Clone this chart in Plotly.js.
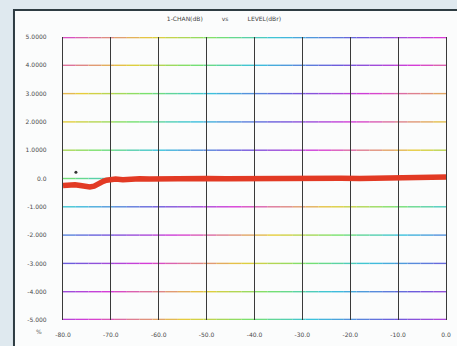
<!DOCTYPE html>
<html><head><meta charset="utf-8">
<script src="https://cdn.plot.ly/plotly-3.0.1.min.js"></script>
<style>html,body{margin:0;padding:0;background:#fff}#chart{width:457px;height:346px}</style>
</head><body><div id="chart"></div>
<script>
// Data
const levelX = [-80, -78.8, -77.5, -76.4, -75.4, -74.4, -73.5, -72.9, -72.2, -71.6, -70.9, -70.2, -69, -67.5, -66, -64, -62, -60, -57, -54, -50, -46, -42, -38, -34, -30, -26, -22, -18, -14, -10, -7, -4, -2, 0];
const chanY = [-0.25, -0.23, -0.22, -0.25, -0.28, -0.3, -0.27, -0.2, -0.15, -0.1, -0.06, -0.03, -0.02, -0.04, -0.02, -0.01, -0.02, -0.01, 0.0, -0.01, 0.0, -0.01, 0.0, 0.0, 0.01, 0.0, 0.0, 0.01, 0.0, 0.01, 0.02, 0.02, 0.03, 0.04, 0.05];
const markerX = [-77.3];
const markerY = [0.22];
const xTickVals = [-80, -70, -60, -50, -40, -30, -20, -10, 0];
const xTickText = ["-80.0", "-70.0", "-60.0", "-50.0", "-40.0", "-30.0", "-20.0", "-10.0", "0.0"];
const yTickVals = [5, 4, 3, 2, 1, 0, -1, -2, -3, -4, -5];
const yTickText = ["5.0000", "4.0000", "3.0000", "2.0000", "1.0000", "0.0", "-1.000", "-2.000", "-3.000", "-4.000", "-5.000"];
const titleText = "1-CHAN(dB)          vs          LEVEL(dBr)";

// rainbow-ish colouring of horizontal grid lines (style only)
const palette = [[215,60,215],[230,205,60],[120,225,110],[60,195,220],[110,90,220],[215,60,215]];
const stops = [0, 0.25, 0.42, 0.58, 0.8, 1];
function colAt(t){
  t = ((t % 1) + 1) % 1;
  for (let i = 0; i < stops.length - 1; i++) {
    if (t >= stops[i] && t <= stops[i+1]) {
      const f = (t - stops[i]) / (stops[i+1] - stops[i]);
      const a = palette[i], b = palette[i+1];
      return `rgb(${Math.round(a[0]+(b[0]-a[0])*f)},${Math.round(a[1]+(b[1]-a[1])*f)},${Math.round(a[2]+(b[2]-a[2])*f)})`;
    }
  }
  return 'rgb(215,60,215)';
}
const phases = [0.02, 0.08, 0.2, 0.24, 0.33, 0.42, 0.55, 0.7, 0.78, 0.88, 0.93];
const shapes = [];
// outer screen frame
shapes.push({type:'rect', xref:'paper', yref:'paper', x0:-0.128, x1:1.2, y0:-0.3, y1:1.095, fillcolor:'#fbfcfc', line:{color:'#2e3c42', width:2}, layer:'below'});
const nSeg = 30;
yTickVals.forEach((yv, i) => {
  const edge = (i === 0 || i === yTickVals.length - 1);
  for (let s = 0; s < nSeg; s++) {
    const f0 = s / nSeg, f1 = (s + 1) / nSeg;
    shapes.push({type:'line', xref:'paper', yref:'y', x0:f0, x1:f1, y0:yv, y1:yv,
      line:{color: colAt((f0 + f1) / 2 + phases[i]), width: edge ? 2.6 : 1.4}, layer:'below'});
  }
});

const traces = [
  {x: levelX, y: chanY, type:'scatter', mode:'lines', line:{color:'#e23a24', width:5.5}, hoverinfo:'skip'},
  {x: markerX, y: markerY, type:'scatter', mode:'markers', marker:{color:'#333', size:3}, hoverinfo:'skip'}
];

const layout = {
  width: 457, height: 346,
  margin: {l:63, r:11, t:37, b:26},
  paper_bgcolor: '#dfe9ef',
  plot_bgcolor: '#ffffff',
  showlegend: false,
  title: {text: titleText, x: 0.49, xanchor:'center', y: 1 - 19/346, yanchor:'middle', yref:'container',
    font:{family:'DejaVu Sans', size:6, color:'#444'}},
  xaxis: {range:[-80, 0], tickvals:xTickVals, ticktext:xTickText, showgrid:true, gridcolor:'#3a3a3a', gridwidth:1.2,
    zeroline:false, showline:false, ticks:'outside', ticklen:9, tickcolor:'rgba(0,0,0,0)',
    tickfont:{family:'DejaVu Sans', size:6, color:'#4a4a4a'}, fixedrange:true},
  yaxis: {range:[-5, 5], tickvals:yTickVals, ticktext:yTickText, showgrid:false, zeroline:false,
    showline:true, mirror:true, linecolor:'#3a3a3a', linewidth:1.2,
    ticks:'outside', ticklen:14, tickcolor:'rgba(0,0,0,0)',
    tickfont:{family:'DejaVu Sans', size:6, color:'#4a4a4a'}, fixedrange:true},
  shapes: shapes,
  annotations: [
    {xref:'paper', yref:'paper', x:-0.075, y:-0.06, text:'%', showarrow:false, font:{family:'DejaVu Sans', size:6, color:'#666'}}
  ]
};
Plotly.newPlot('chart', traces, layout, {displayModeBar:false, staticPlot:true});
</script></body></html>
